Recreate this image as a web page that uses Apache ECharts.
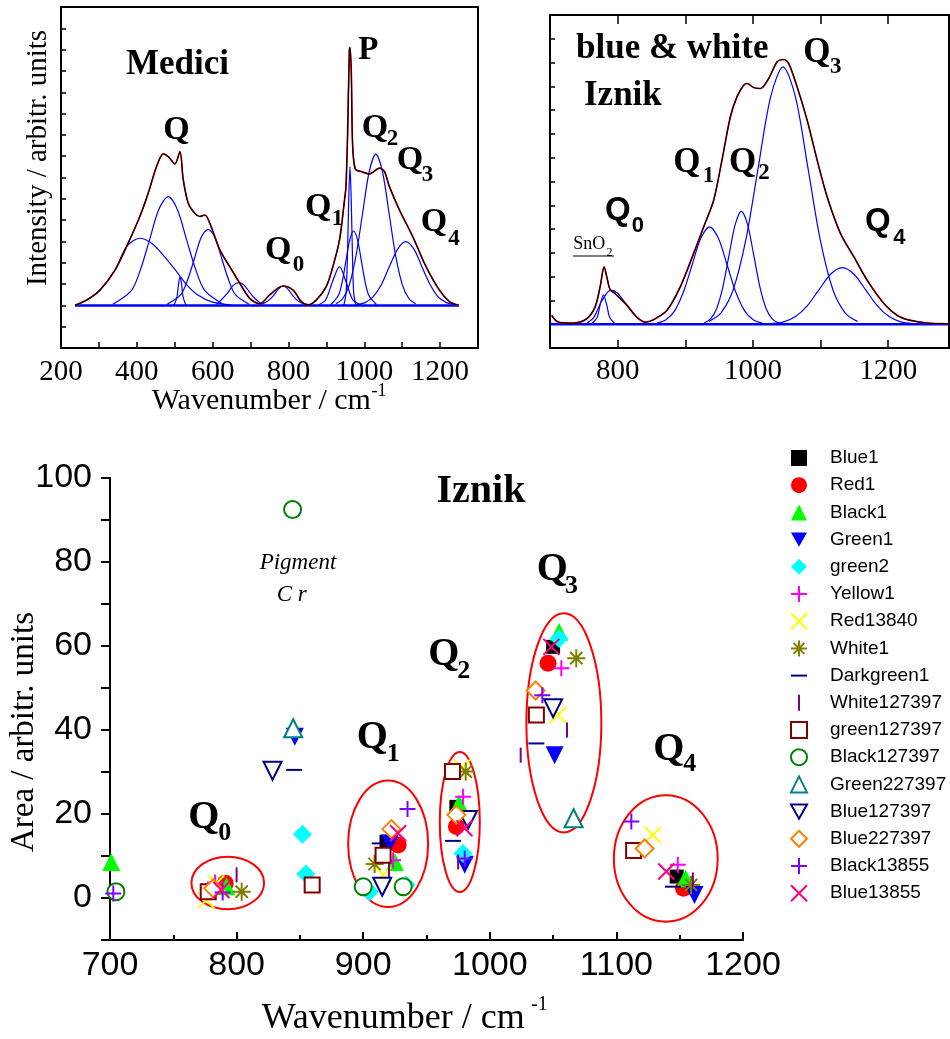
<!DOCTYPE html>
<html><head><meta charset="utf-8">
<script src="https://cdn.jsdelivr.net/npm/echarts@6/dist/echarts.min.js"></script>
<style>html,body{margin:0;padding:0;background:#fff}#c{width:950px;height:1039px}</style>
</head><body><div id="c"></div>
<script>
// ---------- Top-left: Medici spectrum ----------
const medTotal = [[237,2.0],[268,2.25],[303,2.72],[342.6,3.66],[373,4.76],[408,6.17],[430,7.26],[452,8.51],[469.8,9.11],[483,8.98],[500.5,8.64],[513.7,9.22],[522.5,7.89],[535.7,6.79],[553,6.32],[566,6.17],[579.5,6.24],[592.6,5.85],[619,4.6],[645,3.82],[671.6,3.04],[697.9,2.33],[724,2.07],[750.5,2.49],[785.6,2.91],[811.9,2.72],[833.8,2.18],[851.4,2.02],[873.3,2.25],[899.6,2.88],[917.2,3.82],[934.7,5.07],[947.9,6.95],[951.8,7.6],[956.1,10.1],[960.5,13.9],[962.5,14.1],[965.8,12.9],[969.3,9.5],[976.3,8.4],[991.8,8.28],[1013.7,8.17],[1040,8.44],[1053.2,8.28],[1066.4,7.57],[1092.7,6.48],[1127.8,5.23],[1162.9,3.82],[1198,2.72],[1224.3,2.18],[1246.3,2.02]];
const medC1 = [[237,2.0],[268,2.25],[303,2.72],[342.6,3.66],[373,4.76],[408,5.15],[440,4.9],[470,4.35],[500,3.7],[530,3.0],[560,2.5],[600,2.15],[650,2.02]];
const medC2 = [[337,2.05],[386,2.7],[410,3.7],[434,5.1],[458,6.5],[483,7.1],[507,6.5],[531,5.1],[555,3.7],[579,2.7],[628,2.05]];
const medC3 = [[498,2.0],[506,2.4],[510,3.0],[514,3.35],[518,3.0],[522,2.4],[530,2.0]];
const medC4 = [[480,2.05],[516,2.5],[534,3.2],[552,4.2],[570,5.2],[588,5.57],[606,5.2],[624,4.2],[642,3.2],[660,2.5],[696,2.05]];
const medC5 = [[610,2.05],[625,2.3],[640,2.6],[655,2.95],[669,3.07],[683,2.95],[698,2.6],[713,2.3],[730,2.05]];
const medC6 = [[730,2.05],[745,2.2],[760,2.45],[773,2.75],[786,2.91],[799,2.75],[812,2.45],[826,2.2],[842,2.05]];
const medC7 = [[880,2.03],[898,2.25],[916,3.1],[934.7,3.82],[952,3.1],[970,2.25],[990,2.03]];
const medC8 = [[946,2.0],[952,2.6],[956,4.6],[959,7.0],[962.3,8.51],[965.5,7.0],[968.5,4.6],[972,2.6],[978,2.0]];
const medC9 = [[912,2.04],[932,2.47],[942,3.13],[952,4.12],[962,5.1],[971.8,5.49],[982,5.1],[992,4.12],[1002,3.13],[1012,2.47],[1032,2.04]];
const medC10 = [[925.5,2.08],[943,2.31],[960.5,2.96],[978,4.31],[995.5,6.31],[1013,8.27],[1030.5,9.1],[1048,8.27],[1065.5,6.31],[1083,4.31],[1100.5,2.96],[1118,2.31],[1135.5,2.08]];
const medC11 = [[980,2.03],[1002,2.13],[1023,2.40],[1045,2.97],[1066,3.81],[1088,4.64],[1109,4.99],[1131,4.64],[1152,3.81],[1174,2.97],[1195,2.40],[1217,2.13],[1238,2.03]];
const medBase = [[237,2],[1250,2]];

// ---------- Top-right: blue & white Iznik spectrum ----------
const izTotal = [[702.5,1.37],[712.3,1.09],[734.6,1.05],[754.3,1.23],[766.7,1.73],[774.1,2.57],[780,3.41],[784,2.99],[789,2.45],[796.3,2.29],[813.6,1.8],[828.4,1.30],[840.7,1.09],[853,1.19],[872.8,1.58],[892.6,2.57],[912.3,3.97],[927.2,5.09],[942,6.21],[954.3,7.9],[966.7,9.72],[976.5,10.56],[986.4,11.05],[991.4,11.12],[1001.2,10.95],[1011,10.91],[1023.4,11.33],[1035.8,12.03],[1045.7,12.13],[1053,11.96],[1065.4,10.98],[1080.2,9.58],[1095,7.9],[1109.9,6.35],[1129.6,4.81],[1149.4,3.83],[1169,2.85],[1193.8,1.87],[1213.6,1.37],[1233.3,1.16],[1258,1.05],[1290,1.02]];
const izSn = [[762,1.02],[770,1.3],[774,1.8],[779,2.22],[784,1.8],[788,1.3],[796,1.02]];
const izQ0 = [[755,1.05],[765,1.3],[777,2.0],[790,2.43],[800,2.3],[813.6,1.8],[828,1.3],[842,1.05]];
const izQ1 = [[858,1.05],[871,1.18],[884,1.55],[897,2.33],[910,3.48],[923,4.61],[936,5.09],[949,4.61],[962,3.48],[975,2.33],[988,1.55],[1001,1.18],[1014,1.05]];
const izQ2 = [[928,1.05],[937,1.21],[946.2,1.64],[955.4,2.54],[964.6,3.88],[973.8,5.19],[983,5.75],[992.2,5.19],[1001.4,3.88],[1010.6,2.54],[1019.8,1.64],[1029,1.21],[1038,1.05]];
const izQ3 = [[934.6,1.12],[952.6,1.47],[971,2.46],[989.4,4.52],[1007.8,7.57],[1026.2,10.55],[1044.6,11.82],[1063,10.55],[1081.4,7.57],[1099.8,4.52],[1118.2,2.46],[1136.6,1.47],[1154.6,1.12]];
const izQ4 = [[1028,1.03],[1045.7,1.10],[1063,1.32],[1080.3,1.77],[1097.6,2.44],[1114.9,3.10],[1132.2,3.38],[1149.5,3.10],[1166.8,2.44],[1184.1,1.77],[1201.4,1.32],[1218.7,1.10],[1236,1.03]];
const izBase = [[700,1],[1290,1]];

// ---------- Bottom: band areas ----------
const seriesNames = ['Blue1','Red1','Black1','Green1','green2','Yellow1','Red13840','White1','Darkgreen1','White127397','green127397','Black127397','Green227397','Blue127397','Blue227397','Black13855','Blue13855'];
const blue1 = [[918.4,13.4],[973.6,21.7],[1050,59.8],[1147.6,5.1]];
const red1 = [[791,3.5],[927.6,12.6],[973.6,17],[1046,55.9],[1153,2.3]];
const black1 = [[701,8.6],[792,2.8],[925,8.6],[975.7,22.5],[1054.7,63.4],[1154.6,4.7]];
const green1 = [[846,38.4],[921,13],[980.2,7.9],[1051.2,34],[1161.7,0.7]];
const green2 = [[852,15.2],[854.7,5.7],[905,1.5],[934,3.1],[978.9,10.6],[1054.7,61.8]];
const yellow1 = [[783,3.7],[923.6,9],[978.9,24.1],[1056.5,54.7],[1148.5,7.9]];
const red13840 = [[784,3.5],[776,-0.5],[915.7,5.5],[978,31],[1053.8,43.6],[1128.8,15]];
const white1 = [[804,1.5],[909,8.1],[981,30.1],[1068.3,57.1],[1159,3.1]];
const darkgreen1 = [[845.5,30.5],[913,13],[971,13.6],[1036.8,36.8],[1144.6,2.7]];
const white127397 = [[800,5.5],[920.4,6.7],[975,8.6],[1061,40],[1024.4,34],[1160.4,4.3]];
const green127397 = [[777.6,1.5],[859.7,3.1],[915.7,10.2],[970.5,30.1],[1036.8,43.6],[1113.6,11.3]];
const black127397 = [[704.7,1.5],[844.2,92.5],[900,2.7],[931.6,2.7]];
const green227397 = [[844.7,40.4],[1066.2,19]];
const blue127397 = [[828.4,30.3],[915,2.7],[982.8,18.6],[1050,45.2]];
const blue227397 = [[781.5,2.3],[922.3,16.4],[973.6,19.8],[1036.2,49.4],[1122.3,11.8]];
const black13855 = [[702.6,1.1],[789,1.3],[935,21.2],[980.2,9.4],[1041.5,48.3],[1111.8,18.2]];
const blue13855 = [[788,1.9],[927.6,15.4],[980,16.6],[1048.6,59.8],[1139.4,6.3]];
const seriesValues = [blue1,red1,black1,green1,green2,yellow1,red13840,white1,darkgreen1,white127397,green127397,black127397,green227397,blue127397,blue227397,black13855,blue13855];
// ellipses: [centerX, centerY, radiusX, radiusY] in data units
const ellipses = [[793,3.6,28.7,6.25],[919.7,12.9,31.6,15.05],[976.3,18.1,15.8,16.65],[1058.5,41.7,29.6,26.1],[1139,9.4,41,15.05]];
const bottomXTicks = [700,800,900,1000,1100,1200];
const bottomYLabels = [0,20,40,60,80,100];
const topLeftXLabels = [200,400,600,800,1000,1200];
const topRightXLabels = [800,1000,1200];
const topRightXTicks = [800,900,1000,1100,1200];

// ---------- styles ----------
const PLUS = 'path://M5,0L5,10M0,5L10,5';
const CROSS = 'path://M0,0L10,10M10,0L0,10';
const STAR = 'path://M5,0L5,10M0,5L10,5M1.6,1.6L8.4,8.4M8.4,1.6L1.6,8.4';
const DASH = 'path://M0,5L10,5M5,0L5,0M5,10L5,10';
const BAR = 'path://M5,0L5,10M0,5L0,5M10,5L10,5';
const DOWN = 'path://M0,0L10,0L5,9Z';
const markers = [
 {symbol:'rect', size:14, color:'#000000'},
 {symbol:'circle', size:17, color:'#ff0000'},
 {symbol:'triangle', size:18, color:'#00ff00'},
 {symbol:DOWN, size:18, color:'#0000ff'},
 {symbol:'diamond', size:19, color:'#00ffff'},
 {symbol:PLUS, size:16, stroke:'#ff00ff'},
 {symbol:CROSS, size:16, stroke:'#ffff00'},
 {symbol:STAR, size:18, stroke:'#808000'},
 {symbol:DASH, size:16, stroke:'#000080'},
 {symbol:BAR, size:15, stroke:'#800080'},
 {symbol:'emptyRect', size:15, color:'#800000'},
 {symbol:'emptyCircle', size:17, color:'#008000'},
 {symbol:'emptyTriangle', size:18, color:'#008080'},
 {symbol:DOWN, size:18, hollow:'#000080'},
 {symbol:'emptyDiamond', size:18, color:'#ff8000'},
 {symbol:PLUS, size:16, stroke:'#8000ff'},
 {symbol:CROSS, size:16, stroke:'#ff0080'}
];

const SERIF = 'Liberation Serif', SANS = 'Liberation Sans';
function line(data, xi, yi, color, width, z){
  return {type:'line', xAxisIndex:xi, yAxisIndex:yi, data:data, showSymbol:false, symbol:'none', smooth:0.3, silent:true, z:z,
    lineStyle:{color:color, width:width}};
}
const series = [];
[medBase].forEach(d=>series.push(line(d,0,0,'#0000ff',2.5,2)));
[medC1,medC2,medC3,medC4,medC5,medC6,medC7,medC8,medC9,medC10,medC11].forEach(d=>series.push(line(d,0,0,'#0000ff',1.2,2)));
series.push(line(medTotal,0,0,'#ff0000',1.7,3));
series.push(line(medTotal,0,0,'#000000',1.2,4));
series.push(line(izBase,1,1,'#0000ff',2.5,2));
[izSn,izQ0,izQ1,izQ2,izQ3,izQ4].forEach(d=>series.push(line(d,1,1,'#0000ff',1.2,2)));
series.push(line(izTotal,1,1,'#ff0000',1.7,3));
series.push(line(izTotal,1,1,'#000000',1.2,4));
series.push({type:'custom', xAxisIndex:3, yAxisIndex:2, data:ellipses, silent:true, z:2,
  renderItem:function(params, api){
    const c = api.coord([api.value(0), api.value(1)]);
    const s = api.size([api.value(2), api.value(3)]);
    return {type:'ellipse', shape:{cx:c[0], cy:c[1], rx:s[0], ry:s[1]}, style:{fill:'none', stroke:'#ff0000', lineWidth:2}};
  }});
seriesNames.forEach((n,i)=>{
  const m = markers[i];
  let it;
  if (m.stroke) it = {color:'rgba(0,0,0,0)', borderColor:m.stroke, borderWidth:2, opacity:1};
  else if (m.hollow) it = {color:'#ffffff', borderColor:m.hollow, borderWidth:2, opacity:1};
  else it = {color:m.color, opacity:1};
  series.push({type:'scatter', name:n, xAxisIndex:3, yAxisIndex:2, data:seriesValues[i], symbol:m.symbol,
    symbolSize:m.size, itemStyle:it, z:5+i*0.01, silent:true});
});

// ---------- text helpers ----------
function T(x, base, text, size, o){
  o = o||{};
  return {type:'text', x:x, y:base - 0.34*size, z:50, silent:true,
    style:{text:text, fontSize:size, fontFamily:o.family||SERIF, fontWeight:o.weight||'normal', fontStyle:o.style||'normal',
      fill:'#000', align:o.align||'left', verticalAlign:'middle'}};
}
function Q(x, base, sub, subX, subBase, size, subSize, fam){
  return [T(x, base, 'Q', size, {weight:'bold', family:fam}), T(subX, subBase, sub, subSize, {weight:'bold', family:fam})];
}
const g = [];
// top-left
g.push(T(126, 76.7, 'Medici', 35, {weight:'bold'}));
g.push(T(163.3, 141.7, 'Q', 34, {weight:'bold'}));
g.push(T(358.3, 61.7, 'P', 33, {weight:'bold'}));
g.push(...Q(361.7,140,'2',386.7,146.7,34,23));
g.push(...Q(396.7,171.7,'3',421.7,183.3,34,23));
g.push(...Q(305,218.3,'1',331.7,226.7,34,23));
g.push(...Q(420.7,233.3,'4',448.3,246.7,34,23));
g.push(...Q(265,261.7,'0',292.7,273.3,34,23));
g.push(T(151.7, 411.7, 'Wavenumber / cm', 30));
g.push(T(371.5, 397, '-1', 18));
g.push({type:'text', x:38.5, y:158, rotation:Math.PI/2, z:50, silent:true,
  style:{text:'Intensity / arbitr. units', fontSize:29, fontFamily:SERIF, fill:'#000', align:'center', verticalAlign:'middle'}});
// top-right
g.push(T(576, 61, 'blue & white', 35, {weight:'bold'}));
g.push(T(584, 108.3, 'Iznik', 35, {weight:'bold'}));
g.push(...Q(803.3,65,'3',830,75,35,23));
g.push(...Q(673.3,175,'1',702.7,184.3,35,23));
g.push(...Q(729,175,'2',758.3,181,35,23));
g.push(...Q(605,221.7,'0',631.7,233.3,33,22,SANS));
g.push(...Q(865,233.3,'4',893.3,245,33,22,SANS));
g.push(T(573.3, 250.7, 'SnO', 18));
g.push(T(606.5, 256.5, '2', 12));
g.push({type:'line', shape:{x1:573, y1:256, x2:614, y2:256}, style:{stroke:'#000', lineWidth:1}, z:50, silent:true});
// bottom
g.push(T(481, 505, 'Iznik', 40, {weight:'bold', align:'center'}));
g.push(...Q(188.3,831.7,'0',218.3,841.7,40,26));
g.push(...Q(356.7,751.7,'1',386.7,763.3,40,26));
g.push(...Q(428.3,668.3,'2',457.3,680,40,26));
g.push(...Q(536.7,583.3,'3',565,595,40,26));
g.push(...Q(653.3,763.3,'4',683.3,773.3,40,26));
g.push(T(298, 570.7, 'Pigment', 23, {style:'italic', align:'center'}));
g.push(T(291.7, 603, 'C r', 23, {style:'italic', align:'center'}));
g.push(T(261.7, 1031, 'Wavenumber / cm', 36));
g.push(T(531, 1012, '-1', 20));
g.push({type:'text', x:24, y:732, rotation:Math.PI/2, z:50, silent:true,
  style:{text:'Area / arbitr. units', fontSize:33, fontFamily:SERIF, fill:'#000', align:'center', verticalAlign:'middle'}});

const tickStyle = {color:'#000', width:1.5};
const option = {
  animation:false,
  backgroundColor:'#fff',
  grid:[
    {left:61, top:7, width:417, height:341, show:true, borderColor:'#000', borderWidth:2, backgroundColor:'rgba(0,0,0,0)'},
    {left:550, top:15, width:399, height:333, show:true, borderColor:'#000', borderWidth:2, backgroundColor:'rgba(0,0,0,0)'},
    {left:110, top:478, width:633, height:462}
  ],
  xAxis:[
    {gridIndex:0, type:'value', min:200, max:1300, interval:100, axisLine:{show:false, onZero:false},
      axisTick:{inside:true, length:6, lineStyle:tickStyle}, splitLine:{show:false},
      axisLabel:{color:'#000', fontFamily:SERIF, fontSize:29, margin:10,
        formatter:v=>topLeftXLabels.indexOf(v)>=0 ? String(v) : ''}},
    {gridIndex:1, type:'value', min:700, max:1290, axisLine:{show:false, onZero:false},
      axisTick:{inside:true, length:8, lineStyle:tickStyle, customValues:topRightXTicks}, splitLine:{show:false},
      axisLabel:{color:'#000', fontFamily:SERIF, fontSize:29, margin:9, customValues:topRightXLabels, formatter:v=>String(v)}},
    {gridIndex:1, type:'value', position:'top', min:700, max:1290, axisLine:{show:false, onZero:false},
      axisTick:{inside:true, length:9, lineStyle:tickStyle, customValues:topRightXTicks}, splitLine:{show:false},
      axisLabel:{show:false}},
    {gridIndex:2, type:'value', min:700, max:1200, interval:100, axisLine:{show:true, onZero:false, lineStyle:{color:'#000', width:2}},
      axisTick:{inside:true, length:8, lineStyle:{color:'#000', width:2}},
      minorTick:{show:true, splitNumber:2, length:5, lineStyle:{color:'#000', width:2}},
      splitLine:{show:false}, minorSplitLine:{show:false},
      axisLabel:{color:'#000', fontFamily:SANS, fontSize:34, margin:9,
        formatter:v=>bottomXTicks.indexOf(v)>=0 ? String(v) : ''}}
  ],
  yAxis:[
    {gridIndex:0, type:'value', min:0, max:16, interval:1, axisLine:{show:false, onZero:false},
      axisTick:{inside:true, length:5, lineStyle:tickStyle}, axisLabel:{show:false}, splitLine:{show:false}},
    {gridIndex:1, type:'value', min:0, max:14, interval:1, axisLine:{show:false, onZero:false},
      axisTick:{inside:true, length:5, lineStyle:tickStyle}, axisLabel:{show:false}, splitLine:{show:false}},
    {gridIndex:2, type:'value', min:-10, max:100, interval:10, axisLine:{show:true, onZero:false, lineStyle:{color:'#000', width:2}},
      axisTick:{length:9, lineStyle:{color:'#000', width:2}}, splitLine:{show:false},
      axisLabel:{color:'#000', fontFamily:SANS, fontSize:34, margin:18,
        formatter:v=>bottomYLabels.indexOf(v)>=0 ? String(v) : ''}}
  ],
  legend:{data:seriesNames, orient:'vertical', left:790, top:448, padding:0, itemGap:7.2, itemWidth:16, itemHeight:16,
    selectedMode:false, textStyle:{fontFamily:SANS, fontSize:19, color:'#000', lineHeight:20, padding:[0,0,0,18]}},
  graphic:g,
  series:series
};
const chart = echarts.init(document.getElementById('c'), null, {renderer:'canvas'});
chart.setOption(option);
</script>
</body></html>
